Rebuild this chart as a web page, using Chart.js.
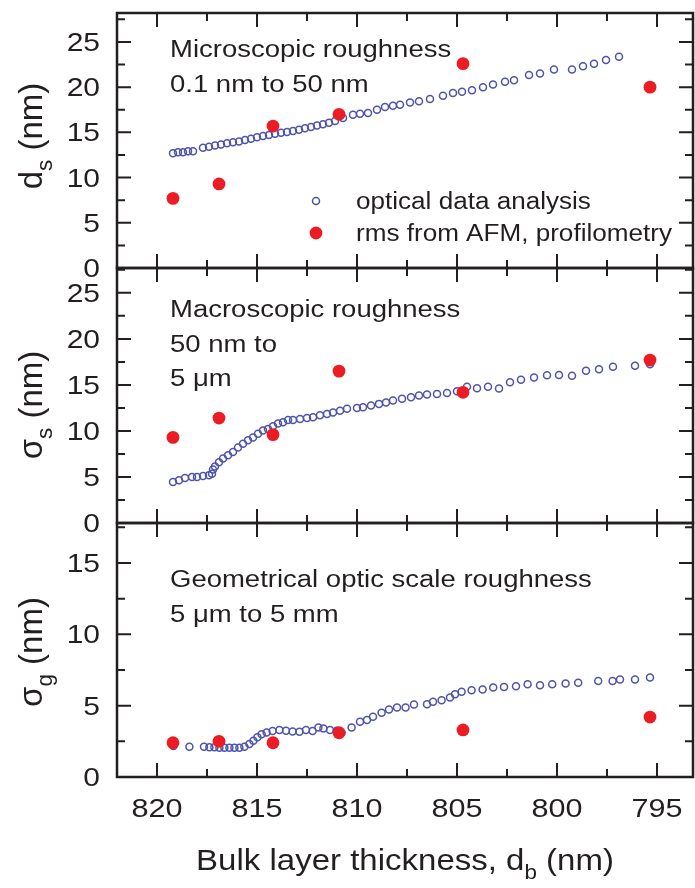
<!doctype html>
<html lang="en">
<head>
<meta charset="utf-8">
<script src="https://cdn.jsdelivr.net/npm/chart.js@4.4.1/dist/chart.umd.min.js"></script>
<style>
  html, body { margin: 0; padding: 0; background: #fff; }
  #wrap { position: relative; width: 695px; height: 888px; overflow: hidden; background: #fff; }
  #wrap canvas { position: absolute; left: 0; top: 0; }
</style>
</head>
<body>
<div id="wrap">
  <canvas id="p1" width="695" height="888"></canvas>
  <canvas id="p2" width="695" height="888"></canvas>
  <canvas id="p3" width="695" height="888"></canvas>
</div>
<script>
// bulk layer thickness axis (reversed)
const xMajorTicks = [820, 815, 810, 805, 800, 795];
const xMinorTicks = [817.5, 812.5, 807.5, 802.5, 797.5];
const yTicksWide = [0, 5, 10, 15, 20, 25];
const yMinorWide = [2.5, 7.5, 12.5, 17.5, 22.5, 27.5];
const yTicksGeo = [0, 5, 10, 15];
const yMinorGeo = [2.5, 7.5, 12.5, 17.5];

// rms from AFM, profilometry (same samples in all panels)
const afmThickness = [819.2, 816.9, 814.2, 810.9, 804.7, 795.35];
const afmDs = [7.7, 9.3, 15.7, 17.0, 22.6, 20.0];
const afmSigmaS = [9.3, 11.4, 9.6, 16.5, 14.2, 17.7];
const afmSigmaG = [2.4, 2.5, 2.4, 3.1, 3.3, 4.2];

// optical data analysis, microscopic roughness d_s
const optDsThickness = [819.2, 818.95, 818.7, 818.45, 818.2, 817.7, 817.4, 817.1, 816.8, 816.5,
  816.2, 815.9, 815.6, 815.3, 815.0, 814.7, 814.4, 814.1, 813.8, 813.5, 813.2, 812.9, 812.6,
  812.3, 812.0, 811.7, 811.4, 811.1, 810.7, 810.2, 809.85, 809.45, 809.0, 808.6, 808.2, 807.85,
  807.35, 806.9, 806.35, 805.7, 805.2, 804.75, 804.25, 803.7, 803.2, 802.6, 802.15, 801.4,
  800.85, 800.15, 799.25, 798.7, 798.15, 797.55, 796.9];
const optDs = [12.7, 12.8, 12.8, 12.9, 12.9, 13.3, 13.4, 13.55, 13.65, 13.8,
  13.9, 14.0, 14.15, 14.3, 14.45, 14.6, 14.7, 14.85, 14.95, 15.05, 15.15, 15.3, 15.45,
  15.6, 15.75, 15.9, 16.05, 16.25, 16.6, 16.95, 17.05, 17.15, 17.5, 17.8, 17.95, 18.05,
  18.3, 18.45, 18.7, 19.05, 19.35, 19.5, 19.65, 20.0, 20.3, 20.6, 20.75, 21.35,
  21.5, 21.95, 21.95, 22.3, 22.6, 23.0, 23.35];

// optical data analysis, macroscopic roughness sigma_s
const optSsThickness = [819.2, 818.9, 818.6, 818.25, 818.0, 817.7, 817.4, 817.25, 817.2, 817.1,
  816.9, 816.7, 816.45, 816.2, 815.95, 815.7, 815.45, 815.2, 814.95, 814.7, 814.45, 814.2,
  813.95, 813.7, 813.45, 813.2, 812.85, 812.5, 812.2, 811.85, 811.5, 811.2, 810.85, 810.5,
  810.0, 809.7, 809.3, 808.9, 808.55, 808.2, 807.75, 807.3, 806.9, 806.5, 806.0, 805.5,
  805.0, 804.5, 804.0, 803.45, 802.9, 802.35, 801.8, 801.15, 800.5, 799.9, 799.25, 798.55,
  797.9, 797.2, 796.1, 795.35];
const optSs = [4.45, 4.65, 4.9, 5.0, 5.0, 5.1, 5.2, 5.35, 5.8, 6.15,
  6.6, 7.0, 7.35, 7.7, 8.2, 8.6, 9.0, 9.3, 9.7, 10.05, 10.2, 10.5,
  10.8, 10.95, 11.2, 11.2, 11.3, 11.4, 11.5, 11.7, 11.85, 12.0, 12.2, 12.4,
  12.5, 12.57, 12.76, 12.94, 13.1, 13.3, 13.5, 13.65, 13.84, 13.95, 14.0, 14.13,
  14.3, 14.8, 14.65, 14.8, 14.6, 15.28, 15.57, 15.8, 16.05, 16.07, 16.0, 16.55,
  16.7, 16.97, 17.08, 17.25];

// optical data analysis, geometrical optic scale roughness sigma_g
const optSgThickness = [819.18, 818.38, 817.65, 817.38, 817.13, 816.88, 816.63, 816.38, 816.13,
  815.88, 815.63, 815.38, 815.18, 814.98, 814.77, 814.52, 814.22, 813.88, 813.55, 813.22,
  812.88, 812.55, 812.22, 811.93, 811.68, 811.35, 811.02, 810.77, 810.27, 809.85, 809.5,
  809.2, 808.77, 808.4, 808.0, 807.57, 807.15, 806.5, 806.2, 805.77, 805.35, 805.1, 804.77,
  804.27, 803.72, 803.19, 802.65, 802.05, 801.47, 800.85, 800.24, 799.57, 798.94, 797.94,
  797.22, 796.85, 796.1, 795.35];
const optSg = [2.17, 2.12, 2.12, 2.08, 2.08, 2.05, 2.05, 2.05, 2.05,
  2.05, 2.12, 2.31, 2.54, 2.78, 2.99, 3.12, 3.22, 3.29, 3.24, 3.19,
  3.17, 3.29, 3.22, 3.47, 3.4, 3.29, 3.24, 3.1, 3.47, 3.87, 3.99,
  4.22, 4.5, 4.73, 4.87, 4.87, 5.08, 5.1, 5.27, 5.38, 5.57, 5.8, 5.97,
  6.08, 6.13, 6.27, 6.31, 6.36, 6.5, 6.43, 6.5, 6.55, 6.6, 6.73,
  6.73, 6.83, 6.83, 6.97];

const INK = '#231f20';
const BLUE = '#4d54aa';
const RED = '#ec1c24';
const FONT = "'Liberation Sans', Arial, sans-serif";

function pts(xs, ys) {
  return xs.map(function (x, i) { return { x: x, y: ys[i] }; });
}

// parts: [[text, isSub], ...]
function drawRich(ctx, parts, x, y, size, align, sx, rotate) {
  ctx.save();
  ctx.translate(x, y);
  if (rotate) ctx.rotate(-Math.PI / 2);
  ctx.scale(sx, 1);
  ctx.fillStyle = INK;
  ctx.textAlign = 'left';
  ctx.textBaseline = 'alphabetic';
  var widths = parts.map(function (p) {
    ctx.font = (p[1] ? size * 0.68 : size) + 'px ' + FONT;
    return ctx.measureText(p[0]).width;
  });
  var total = widths.reduce(function (a, b) { return a + b; }, 0);
  var cx = align === 'center' ? -total / 2 : align === 'right' ? -total : 0;
  parts.forEach(function (p, i) {
    ctx.font = (p[1] ? size * 0.68 : size) + 'px ' + FONT;
    ctx.fillText(p[0], cx, p[1] ? size * 0.3 : 0);
    cx += widths[i];
  });
  ctx.restore();
}

function framePlugin(cfg) {
  return {
    id: 'frame',
    afterDraw: function (chart) {
      var ctx = chart.ctx, a = chart.chartArea;
      var xs = chart.scales.x, ys = chart.scales.y;
      ctx.save();
      ctx.strokeStyle = INK;
      ctx.lineWidth = 2;
      function xTick(v, len) {
        var px = xs.getPixelForValue(v);
        ctx.beginPath();
        ctx.moveTo(px, a.bottom); ctx.lineTo(px, a.bottom - len);
        ctx.moveTo(px, a.top); ctx.lineTo(px, a.top + len);
        ctx.stroke();
      }
      function yTick(v, len) {
        var py = ys.getPixelForValue(v);
        ctx.beginPath();
        ctx.moveTo(a.left, py); ctx.lineTo(a.left + len, py);
        ctx.moveTo(a.right, py); ctx.lineTo(a.right - len, py);
        ctx.stroke();
      }
      xMajorTicks.forEach(function (v) { xTick(v, 14); });
      xMinorTicks.forEach(function (v) { xTick(v, 8); });
      cfg.yMajor.forEach(function (v) { yTick(v, 14); });
      cfg.yMinor.forEach(function (v) { yTick(v, 8); });
      ctx.lineWidth = 2.5;
      ctx.strokeRect(a.left, a.top, a.right - a.left, a.bottom - a.top);
      ctx.restore();

      cfg.yMajor.forEach(function (v) {
        drawRich(ctx, [[String(v)]], a.left - 17, ys.getPixelForValue(v) + 9, 25, 'right', 1.2);
      });
      if (cfg.xLabels) {
        xMajorTicks.forEach(function (v) {
          drawRich(ctx, [[String(v)]], xs.getPixelForValue(v), 817, 25.5, 'center', 1.2);
        });
        drawRich(ctx, [['Bulk layer thickness, d'], ['b', true], [' (nm)']], 405, 870, 30, 'center', 1.1);
      }
      drawRich(ctx, cfg.yTitle, 42, cfg.yTitleY, 33, 'center', 1, true);
      cfg.notes.forEach(function (n, i) {
        drawRich(ctx, [[n]], 170, cfg.noteY + i * 34.5, 23.5, 'left', 1.17);
      });
      if (cfg.legend) {
        [[BLUE, 3.5, 201, 'optical data analysis', false], [RED, 6.4, 233, 'rms from AFM, profilometry', true]]
          .forEach(function (l) {
            ctx.save();
            ctx.beginPath();
            ctx.arc(316, l[2], l[1], 0, Math.PI * 2);
            if (l[4]) { ctx.fillStyle = l[0]; ctx.fill(); }
            else { ctx.strokeStyle = l[0]; ctx.lineWidth = 1.5; ctx.stroke(); }
            ctx.restore();
            drawRich(ctx, [[l[3]]], 356, l[2] + 8, 23.5, 'left', 1.11);
          });
      }
    }
  };
}

function makePanel(id, cfg) {
  return new Chart(document.getElementById(id), {
    type: 'scatter',
    data: {
      datasets: [{
        data: pts(afmThickness, cfg.afm),
        pointRadius: 6.4,
        pointBackgroundColor: RED,
        pointBorderWidth: 0,
        order: 0
      }, {
        data: cfg.optical,
        pointRadius: 3.5,
        pointBackgroundColor: 'rgba(0,0,0,0)',
        pointBorderColor: BLUE,
        pointBorderWidth: 1.5,
        order: 1
      }]
    },
    options: {
      responsive: false,
      animation: false,
      events: [],
      layout: { autoPadding: false, padding: { left: 117, right: 2, top: cfg.top, bottom: 888 - cfg.bottom } },
      plugins: { legend: { display: false }, tooltip: { enabled: false } },
      scales: {
        x: { type: 'linear', min: 793.2, max: 822, reverse: true, display: false },
        y: { type: 'linear', min: 0, max: cfg.yMax, display: false }
      }
    },
    plugins: [framePlugin(cfg)]
  });
}

makePanel('p1', {
  top: 13, bottom: 268, yMax: 28.2,
  afm: afmDs, optical: pts(optDsThickness, optDs),
  yMajor: yTicksWide, yMinor: yMinorWide,
  yTitle: [['d'], ['s', true], [' (nm)']], yTitleY: 136,
  notes: ['Microscopic roughness', '0.1 nm to 50 nm'], noteY: 57,
  legend: true
});
makePanel('p2', {
  top: 268, bottom: 523, yMax: 27.7,
  afm: afmSigmaS, optical: pts(optSsThickness, optSs),
  yMajor: yTicksWide, yMinor: yMinorWide,
  yTitle: [['\u03c3'], ['s', true], [' (nm)']], yTitleY: 405,
  notes: ['Macroscopic roughness', '50 nm to', '5 \u03bcm'], noteY: 317
});
makePanel('p3', {
  top: 523, bottom: 777, yMax: 17.8,
  afm: afmSigmaG, optical: pts(optSgThickness, optSg),
  yMajor: yTicksGeo, yMinor: yMinorGeo,
  yTitle: [['\u03c3'], ['g', true], [' (nm)']], yTitleY: 652,
  notes: ['Geometrical optic scale roughness', '5 \u03bcm to 5 mm'], noteY: 587,
  xLabels: true
});
</script>
</body>
</html>
